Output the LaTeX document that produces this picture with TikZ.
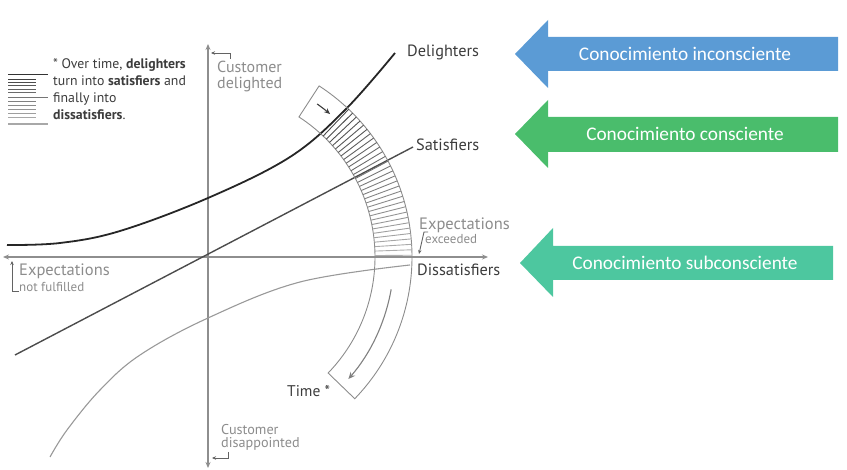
\documentclass[tikz,border=0pt]{standalone}
\usepackage{fontspec}
\setmainfont{PT Sans}
\newfontfamily\calibri{Carlito}
\usetikzlibrary{calc,arrows.meta}
\definecolor{axisgray}{HTML}{8E8E8E}
\definecolor{labgray}{HTML}{8C8C8C}
\definecolor{darktxt}{HTML}{3C3C3C}
\definecolor{hatchdark}{HTML}{4A4A4A}
\definecolor{hatchlight}{HTML}{B0B0B0}
\definecolor{kblue}{HTML}{5B9BD5}
\definecolor{kgreen}{HTML}{4ABD6C}
\definecolor{kteal}{HTML}{4DC79F}
\begin{document}
\begin{tikzpicture}[x=1pt,y=-1pt,
  axisline/.style={draw=axisgray,line width=1.4pt},
  lab/.style={text=labgray,inner sep=0pt,font=\fontsize{16.5}{18}\selectfont,anchor=west},
  labsmall/.style={text=labgray,inner sep=0pt,font=\fontsize{13}{15}\selectfont,anchor=west},
  curvelab/.style={text=darktxt,inner sep=0pt,font=\fontsize{16.3}{18}\selectfont,anchor=west},
  hookline/.style={draw=darktxt!80,line width=0.9pt,-{Stealth[length=4pt,width=3.5pt]}},
  band/.style={draw=gray!90,line width=0.9pt},
  arrowtxt/.style={text=white,font=\calibri\fontsize{19.3}{21}\selectfont,inner sep=0pt}
]
\useasboundingbox (0,0) rectangle (847,470);

% axes
\coordinate (O) at (208,257);
\coordinate (ytop) at (208,44);
\coordinate (ybot) at (208,468);
\coordinate (xl) at (3,257);
\coordinate (xr) at (488,257);
\draw[axisline,{Stealth[length=6pt,width=5pt]}-{Stealth[length=6pt,width=5pt]}] (ybot) -- (ytop);
\draw[axisline,{Stealth[length=6pt,width=5pt]}-{Stealth[length=6pt,width=5pt]}] (xl) -- (xr);

% curves
\draw[draw=black!85,line width=1.8pt] plot[smooth,tension=0.6] coordinates {(7,245) (60,243) (120,231) (208,198) (290,157) (345,110) (395,53)};
\draw[draw=black!70,line width=1.4pt] (15,355) -- (413,147);
\draw[draw=black!40,line width=1.1pt] plot[smooth,tension=0.6] coordinates {(50,457) (67,430) (100,390) (140,355) (208,318) (300,282) (410,265)};

% band
\draw[band] ($(O)+(-57:167)$) arc[start angle=-57,end angle=44,radius=167]
  -- ($(O)+(44:204)$) arc[start angle=44,end angle=-57,radius=204] -- cycle;
\foreach \i in {0,...,30}{
  \pgfmathsetmacro{\ang}{0.5+\i*1.53}
  \pgfmathsetmacro{\shade}{100*\i/30}
  \draw[draw=hatchdark!\shade!hatchlight,line width=0.9pt] ($(O)+(-\ang:167)$) -- ($(O)+(-\ang:204)$);
}
\draw[draw=darktxt,line width=1.1pt,-{Stealth[length=6pt,width=5pt]}] ($(O)+(-54.5:188)$) arc[start angle=-54.5,end angle=-49.5,radius=188];
\draw[draw=gray,line width=1.1pt,-{Stealth[length=7pt,width=6pt]}] ($(O)+(10:186)$) arc[start angle=10,end angle=41,radius=186];

% legend
\foreach \y/\len/\c in {74.3/48/80,79.3/36/75,82.3/36/70,85.7/36/66,89.3/36/62,92.7/36/58,97.3/48/54,101.7/36/50,105.7/36/46,109.3/36/42,113.3/36/38,117.3/36/34,124/48/34}{
  \draw[draw=black!\c,line width=1.1pt] (8,\y) -- (\len,\y);
}
\node[text=darktxt,inner sep=0pt,anchor=north west,align=left,font=\fontsize{13.8}{17}\selectfont] (legend) at (53,58)
  {* Over time, \textbf{delighters}\\turn into \textbf{satisfiers} and\\finally into\\\textbf{dissatisfiers}.};

% curve labels
\node[curvelab] (del) at (407,52) {Delighters};
\node[curvelab] (sat) at (416,145) {Satisfiers};
\node[curvelab] (dis) at (417,270) {Dissatisfiers};
\node[text=darktxt,inner sep=0pt,anchor=west,font=\fontsize{15.5}{17}\selectfont] (time) at (287,391) {Time *};

% axis labels
\node[lab,font=\fontsize{16}{18}\selectfont] (cd1) at (217,67) {Customer};
\node[lab,font=\fontsize{16}{18}\selectfont] (cd2) at (217,85) {delighted};
\coordinate (h1) at (230,59); \coordinate (h1b) at (230,53); \coordinate (h1c) at (211,53);
\draw[hookline] (h1) -- (h1b) -- (h1c);

\node[lab] (ee1) at (419,225) {Expectations};
\node[labsmall] (ee2) at (425,239) {exceeded};
\coordinate (h2) at (428,232); \coordinate (h2b) at (424,232); \coordinate (h2c) at (419,254);
\draw[hookline] (h2) -- (h2b) -- (h2c);

\node[lab] (nf1) at (19,271) {Expectations};
\node[labsmall] (nf2) at (19,287) {not fulfilled};
\coordinate (h3) at (19,291); \coordinate (h3b) at (12,291); \coordinate (h3c) at (12,261);
\draw[hookline] (h3) -- (h3b) -- (h3c);

\node[labsmall,font=\fontsize{14.2}{16}\selectfont] (cdd1) at (221,430) {Customer};
\node[labsmall,font=\fontsize{14.2}{16}\selectfont] (cdd2) at (221,444) {disappointed};
\coordinate (h4) at (228,452); \coordinate (h4b) at (228,458); \coordinate (h4c) at (212,458);
\draw[hookline] (h4) -- (h4b) -- (h4c);

% right arrows
\fill[kblue] (515,54) -- (548,20) -- (548,37) -- (838,37) -- (838,71) -- (548,71) -- (548,88) -- cycle;
\node[arrowtxt] (a1) at (685,54) {Conocimiento inconsciente};
\fill[kgreen] (515,134) -- (548,100) -- (548,117) -- (838,117) -- (838,152) -- (548,152) -- (548,168) -- cycle;
\node[arrowtxt] (a2) at (685,134) {Conocimiento consciente};
\fill[kteal] (520,263) -- (553,228) -- (553,246) -- (833,246) -- (833,280) -- (553,280) -- (553,297) -- cycle;
\node[arrowtxt] (a3) at (685,263) {Conocimiento subconsciente};
\end{tikzpicture}
\end{document}
